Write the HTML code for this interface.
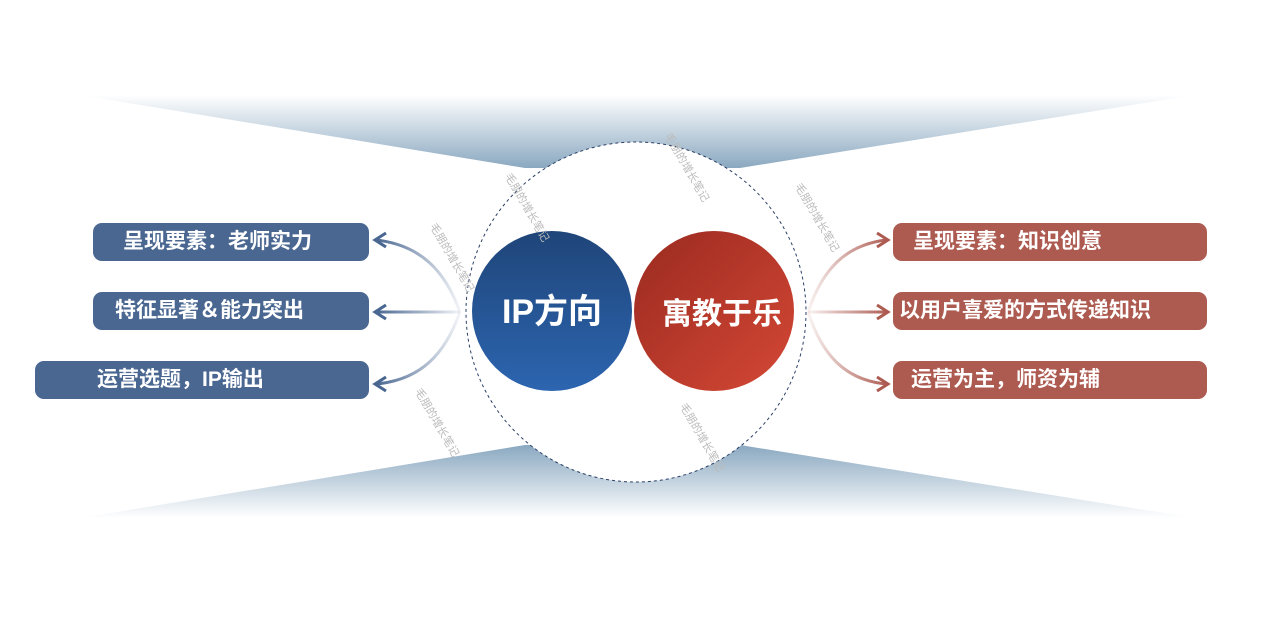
<!DOCTYPE html>
<html><head><meta charset="utf-8"><style>
body{margin:0;width:1278px;height:620px;background:#fff;overflow:hidden;position:relative;font-family:"Liberation Sans","Noto Sans CJK SC",sans-serif}
.b{position:absolute;height:38px;border-radius:9px;color:#fff;font-weight:bold;font-size:21px;line-height:38px;box-sizing:border-box}
.l{background:#4a6791}
.r{background:#ad5b51}
.wm{position:absolute;color:#bbb;font-size:11px;transform:rotate(60deg);transform-origin:left top;white-space:nowrap}
</style></head><body>
<svg width="1278" height="620" style="position:absolute;left:0;top:0">
<defs>
<linearGradient id="gt" x1="0" y1="0" x2="0" y2="1"><stop offset="0" stop-color="#fff"/><stop offset="1" stop-color="#8aa8c0"/></linearGradient>
<linearGradient id="gb" x1="0" y1="1" x2="0" y2="0"><stop offset="0" stop-color="#fff"/><stop offset="1" stop-color="#8aa8c0"/></linearGradient>
<linearGradient id="bl" x1="0" y1="0" x2="0" y2="1"><stop offset="0" stop-color="#1f4579"/><stop offset="1" stop-color="#2c65b0"/></linearGradient>
<linearGradient id="rd" x1="0" y1="0" x2="1" y2="1"><stop offset="0" stop-color="#9a2a20"/><stop offset="1" stop-color="#d54835"/></linearGradient>
<linearGradient id="al" gradientUnits="userSpaceOnUse" x1="376" y1="0" x2="462" y2="0"><stop offset="0" stop-color="#4a6791"/><stop offset="1" stop-color="#4a6791" stop-opacity="0.05"/></linearGradient>
<linearGradient id="ar" gradientUnits="userSpaceOnUse" x1="806" y1="0" x2="888" y2="0"><stop offset="0" stop-color="#ad5b51" stop-opacity="0.05"/><stop offset="1" stop-color="#ad5b51"/></linearGradient>
</defs>
<polygon points="80,95 1195,95 740,168 525,168" fill="url(#gt)"/>
<polygon points="80,518 1195,518 740,445 525,445" fill="url(#gb)"/>
<circle cx="636" cy="312" r="170" fill="#fff" stroke="#2a3f66" stroke-dasharray="3,3"/>
<circle cx="552" cy="311" r="80" fill="url(#bl)"/>
<circle cx="714" cy="311" r="80" fill="url(#rd)"/>
<g fill="none" stroke="url(#al)" stroke-width="3">
<path d="M460,312 C445,270 420,245 376,240"/>
<path d="M460,312 L376,312"/>
<path d="M460,312 C445,355 420,380 376,384"/>
</g>
<g fill="none" stroke="#4a6791" stroke-width="3"><path d="M386,233 L375,240 L386,247"/><path d="M386,305 L375,312 L386,319"/><path d="M386,377 L375,384 L386,391"/></g>
<g fill="none" stroke="url(#ar)" stroke-width="3">
<path d="M808,312 C822,270 845,245 886,240"/>
<path d="M808,312 L886,312"/>
<path d="M808,312 C822,355 845,380 886,384"/>
</g>
<g fill="none" stroke="#ad5b51" stroke-width="3"><path d="M877,233 L888,240 L877,247"/><path d="M877,305 L888,312 L877,319"/><path d="M877,377 L888,384 L877,391"/></g>
<text x="552" y="323" fill="#fff" font-size="34" font-weight="bold" text-anchor="middle" font-family="Liberation Sans,Noto Sans CJK SC,sans-serif">IP方向</text>
<text x="722" y="324" fill="#fff" font-size="30" font-weight="bold" text-anchor="middle" font-family="Liberation Sans,Noto Sans CJK SC,sans-serif">寓教于乐</text>
</svg>
<div class="b l" style="left:93px;top:223px;width:276px;padding-left:30px">呈现要素：老师实力</div>
<div class="b l" style="left:93px;top:292px;width:276px;padding-left:22px">特征显著＆能力突出</div>
<div class="b l" style="left:35px;top:361px;width:334px;padding-left:62px">运营选题，IP输出</div>
<div class="b r" style="left:893px;top:223px;width:314px;padding-left:20px">呈现要素：知识创意</div>
<div class="b r" style="left:893px;top:292px;width:314px;padding-left:6px">以用户喜爱的方式传递知识</div>
<div class="b r" style="left:893px;top:361px;width:314px;padding-left:18px">运营为主，师资为辅</div>
<div class="wm" style="left:440px;top:220px">毛朋的增长笔记</div>
<div class="wm" style="left:515px;top:170px">毛朋的增长笔记</div>
<div class="wm" style="left:675px;top:130px">毛朋的增长笔记</div>
<div class="wm" style="left:805px;top:180px">毛朋的增长笔记</div>
<div class="wm" style="left:425px;top:385px">毛朋的增长笔记</div>
<div class="wm" style="left:690px;top:400px">毛朋的增长笔记</div>
</body></html>
